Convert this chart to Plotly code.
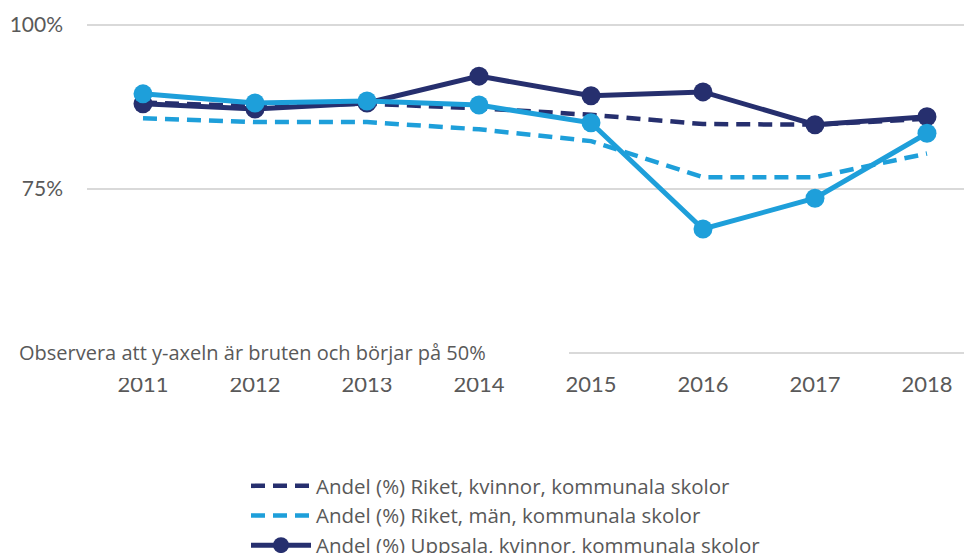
import plotly.graph_objects as go

years = ["2011", "2012", "2013", "2014", "2015", "2016", "2017", "2018"]
riket_kvinnor = [88.2, 87.6, 88.0, 87.3, 86.3, 84.9, 84.8, 85.7]
riket_man = [85.8, 85.2, 85.2, 84.1, 82.3, 76.8, 76.8, 80.4]
uppsala_kvinnor = [88.0, 87.2, 88.1, 92.2, 89.2, 89.8, 84.8, 86.0]
uppsala_man = [89.5, 88.1, 88.4, 87.8, 85.1, 68.9, 73.6, 83.5]

y_tickvals = [50, 75, 100]
y_ticktext = ["", "75%", "100%"]

names = [
    "Andel (%) Riket, kvinnor, kommunala skolor",
    "Andel (%) Riket, män, kommunala skolor",
    "Andel (%) Uppsala, kvinnor, kommunala skolor",
    "Andel (%) Uppsala, män, kommunala skolor",
]

DARK = "#262f6e"
LIGHT = "#1e9fda"
GREY = "#595959"
FONT = "Lato"
FONT2 = "Open Sans"

# layout geometry (figure pixels)
L, T = 79, 15
PW, PH = 885, 332


def px(xp):
    return (xp - L) / PW


def py(yp):
    return (T + PH - yp) / PH


fig = go.Figure()
fig.add_trace(go.Scatter(x=years, y=riket_kvinnor, name=names[0], mode="lines",
                         line=dict(color=DARK, width=4.5, dash="14px,8px")))
fig.add_trace(go.Scatter(x=years, y=riket_man, name=names[1], mode="lines",
                         line=dict(color=LIGHT, width=4.5, dash="14px,8px")))
fig.add_trace(go.Scatter(x=years, y=uppsala_kvinnor, name=names[2], mode="lines+markers",
                         line=dict(color=DARK, width=5), marker=dict(size=19, color=DARK)))
fig.add_trace(go.Scatter(x=years, y=uppsala_man, name=names[3], mode="lines+markers",
                         line=dict(color=LIGHT, width=5), marker=dict(size=19, color=LIGHT)))

# white cover for the broken-axis note
fig.add_shape(type="rect", xref="paper", yref="paper",
              x0=px(-20), x1=px(561), y0=py(370), y1=py(325),
              fillcolor="white", line=dict(width=0), layer="above")
fig.add_annotation(text="Observera att y-axeln är bruten och börjar på 50%",
                   xref="paper", yref="paper", x=px(9), y=py(344),
                   xanchor="left", yanchor="middle", showarrow=False,
                   font=dict(family=FONT2, size=20, color=GREY))

fig.update_layout(
    width=972, height=553,
    margin=dict(l=L, r=972 - L - PW, t=T, b=553 - T - PH, autoexpand=False),
    paper_bgcolor="white", plot_bgcolor="white",
    font=dict(family=FONT, color=GREY),
    showlegend=True,
    legend=dict(x=px(238), y=py(458), xanchor="left", yanchor="top",
                font=dict(family=FONT2, size=20.5, color=GREY), itemwidth=60,
                bgcolor="rgba(0,0,0,0)", tracegroupgap=0),
    xaxis=dict(type="category", range=[-0.5, 7.402], showgrid=False, zeroline=False,
               showline=False, ticks="", ticklabelstandoff=14,
               tickfont=dict(family=FONT, size=22, color=GREY)),
    yaxis=dict(range=[49.7, 100.3], tickmode="array", tickvals=y_tickvals, ticktext=y_ticktext,
               showgrid=True, gridcolor="#d9d9d9", gridwidth=1.5, zeroline=False,
               showline=False, ticks="", ticklabelstandoff=23,
               tickfont=dict(family=FONT, size=21, color=GREY)),
)

fig.write_html("out.html")
